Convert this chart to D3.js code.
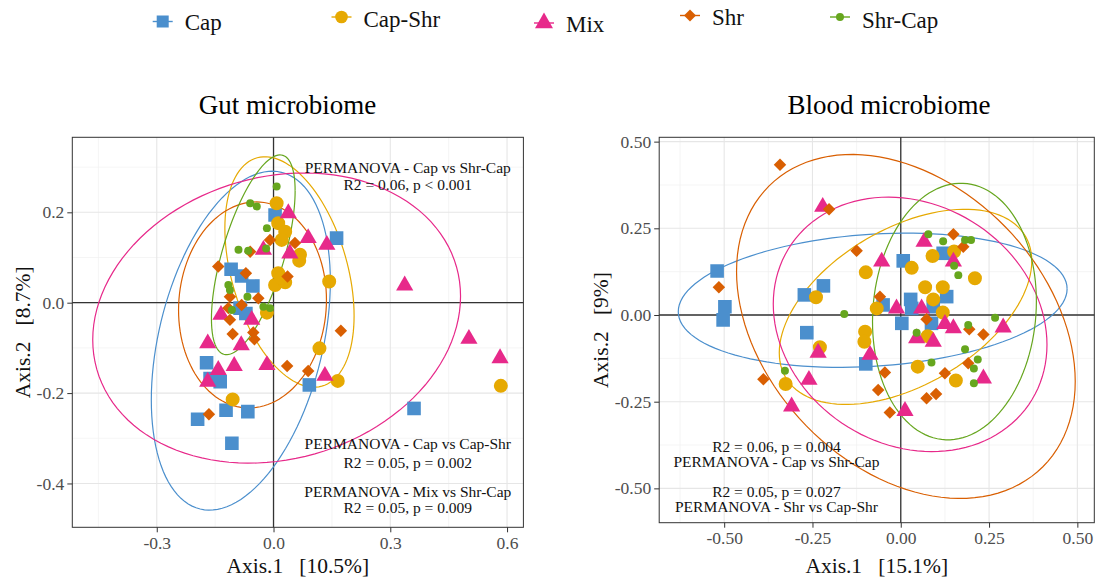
<!DOCTYPE html>
<html>
<head>
<meta charset="utf-8">
<script src="https://cdn.jsdelivr.net/npm/d3@7"></script>
<style>
  body { margin: 0; background: #fff; }
  svg text { font-family: "Liberation Serif", "Times New Roman", serif; }
</style>
</head>
<body>
<div id="chart"></div>
<script>
// groups, in legend order
var groups = ['Cap', 'Cap-Shr', 'Mix', 'Shr', 'Shr-Cap'];
var colors = ['#4b8fcd', '#e6a902', '#e7298a', '#d95f02', '#66a61e'];

// gut microbiome ordination, [Axis.1, Axis.2]
var gutCap = [[0.004,0.194],[0.162,0.143],[-0.109,0.074],[-0.082,0.059],[-0.053,0.037],[-0.086,-0.012],
  [-0.071,-0.024],[-0.172,-0.133],[-0.163,-0.168],[-0.137,-0.175],[0.092,-0.182],[-0.122,-0.238],
  [-0.066,-0.241],[-0.195,-0.258],[-0.107,-0.311],[0.361,-0.234]];
var gutCapShr = [[0.008,0.220],[0.012,0.176],[0.030,0.157],[0.021,0.139],[0.068,0.106],[0.066,0.093],
  [0.012,0.065],[0.004,0.039],[0.030,0.045],[0.020,0.055],[0.143,0.047],[-0.017,-0.022],[0.118,-0.101],
  [0.165,-0.173],[-0.105,-0.214],[0.584,-0.184]];
var gutMix = [[0.038,0.198],[0.089,0.143],[0.137,0.128],[-0.026,0.117],[0.042,0.109],[-0.135,-0.027],
  [-0.056,-0.038],[-0.169,-0.090],[-0.083,-0.094],[-0.142,-0.149],[-0.101,-0.140],[-0.017,-0.138],
  [-0.169,-0.175],[0.132,-0.162],[0.337,0.038],[0.502,-0.080],[0.582,-0.123]];
var gutShr = [[-0.009,0.139],[0.055,0.132],[-0.060,0.113],[-0.142,0.080],[-0.071,0.065],[0.036,0.058],
  [-0.112,0.013],[-0.039,0.010],[-0.082,-0.005],[-0.116,-0.012],[-0.112,-0.038],[-0.105,-0.069],
  [-0.052,-0.066],[-0.049,-0.081],[0.173,-0.062],[0.035,-0.140],[0.089,-0.151],[-0.166,-0.247]];
var gutShrCap = [[0.008,0.257],[-0.060,0.220],[-0.043,0.213],[-0.017,0.165],[-0.090,0.117],[-0.065,0.115],
  [-0.019,0.120],[-0.116,0.039],[-0.112,0.028],[-0.067,0.013],[-0.107,-0.016],[-0.009,-0.012],[-0.026,-0.009]];
// ellipses: [cx, cy, half width, half height, tilt r]
var gutEllipses = [[-0.084,-0.084,0.230,0.375,0.35],[0.041,0.068,0.166,0.255,-0.38],
  [0.008,-0.034,0.4725,0.321,0.15],[-0.054,-0.005,0.19,0.228,0.05],[-0.052,0.106,0.1075,0.221,0.64]];

// blood microbiome ordination
var bloodCap = [[-0.520,0.127],[-0.498,0.024],[-0.503,-0.014],[-0.219,0.084],[-0.273,0.058],[-0.266,-0.051],
  [-0.099,-0.141],[-0.050,0.029],[0.007,0.156],[0.028,0.045],[0.031,0.019],[0.003,-0.024],[0.092,0.024],
  [0.087,-0.024],[0.130,0.053],[0.120,0.178]];
var bloodCapShr = [[-0.099,0.123],[-0.240,0.051],[-0.068,0.019],[0.031,0.136],[0.090,0.170],[0.151,0.183],
  [0.210,0.106],[0.069,0.080],[0.119,0.080],[0.092,0.045],[0.119,0.007],[0.076,-0.061],[-0.101,-0.048],
  [-0.103,-0.077],[-0.229,-0.093],[-0.326,-0.199],[0.048,-0.149],[0.156,-0.189]];
var bloodMix = [[-0.221,0.312],[-0.054,0.154],[0.066,0.211],[0.149,0.154],[-0.012,0.019],[0.059,0.019],
  [0.125,-0.026],[0.149,-0.038],[0.045,-0.067],[0.092,-0.077],[0.290,-0.036],[0.234,-0.183],[0.012,-0.277],
  [-0.087,-0.115],[-0.234,-0.109],[-0.260,-0.187],[-0.309,-0.264]];
var bloodShr = [[-0.342,0.433],[-0.203,0.305],[-0.125,0.185],[-0.515,0.080],[-0.059,0.053],[0.149,0.233],
  [0.177,0.197],[0.073,-0.012],[0.194,-0.041],[0.234,-0.056],[0.191,-0.139],[0.125,-0.168],[0.073,-0.240],
  [0.100,-0.228],[-0.045,-0.166],[-0.064,-0.216],[-0.031,-0.281],[-0.389,-0.185]];
var bloodShrCap = [[-0.160,0.003],[0.078,0.233],[0.120,0.213],[0.182,0.216],[0.199,0.216],[0.151,0.142],
  [0.163,0.115],[0.267,-0.008],[0.045,-0.051],[0.191,-0.029],[0.182,-0.099],[0.218,-0.128],[0.207,-0.154],
  [0.207,-0.197],[0.087,-0.137],[-0.328,-0.161]];
var bloodEllipses = [[-0.0795,0.0425,0.5505,0.1935,0.17],[0.0135,0.0235,0.3575,0.2815,0.47],
  [0.0265,-0.027,0.3875,0.367,-0.16],[0.0145,-0.033,0.4795,0.496,-0.32],[0.152,0.01,0.232,0.37,0.08]];

var gutXTicks = [-0.3, 0, 0.3, 0.6];
var gutYTicks = [-0.4, -0.2, 0, 0.2];
var bloodTicks = [-0.5, -0.25, 0, 0.25, 0.5];

var gutNotes = [['PERMANOVA - Cap vs Shr-Cap', 'R2 = 0.06, p < 0.001'],
  ['PERMANOVA - Cap vs Cap-Shr', 'R2 = 0.05, p = 0.002'],
  ['PERMANOVA - Mix vs Shr-Cap', 'R2 = 0.05, p = 0.009']];
var bloodNotes = [['R2 = 0.06, p = 0.004', 'PERMANOVA - Cap vs Shr-Cap'],
  ['R2 = 0.05, p = 0.027', 'PERMANOVA - Shr vs Cap-Shr']];

var svg = d3.select('#chart').append('svg')
  .attr('width', 1097)
  .attr('height', 581);

// symbol per group, size is area
function shapeFor(i, legend) {
  var s = legend
    ? [[d3.symbolSquare,144],[d3.symbolCircle,125],[d3.symbolTriangle,140],[d3.symbolSquare,72],[d3.symbolCircle,50]]
    : [[d3.symbolSquare,185],[d3.symbolCircle,154],[d3.symbolTriangle,128],[d3.symbolSquare,78],[d3.symbolCircle,50]];
  return d3.symbol().type(s[i][0]).size(s[i][1])();
}

function ellipsePoints(e) {
  var pts = [];
  var k = Math.sqrt(1 - e[4] * e[4]);
  for (var i = 0; i <= 120; i++) {
    var t = i / 120 * 2 * Math.PI;
    pts.push([e[0] + e[2] * Math.cos(t), e[1] + e[3] * (e[4] * Math.cos(t) + k * Math.sin(t))]);
  }
  return pts;
}

function drawPanel(o) {
  var x = d3.scaleLinear().domain(o.xDomain).range([o.left, o.right]);
  var y = d3.scaleLinear().domain(o.yDomain).range([o.bottom, o.top]);
  var g = svg.append('g');

  g.append('rect')
    .attr('x', o.left).attr('y', o.top)
    .attr('width', o.right - o.left).attr('height', o.bottom - o.top)
    .attr('fill', '#fff');

  // grid
  o.xMinor.forEach(function(v) {
    g.append('line').attr('x1', x(v)).attr('x2', x(v)).attr('y1', o.top).attr('y2', o.bottom)
      .attr('stroke', '#f0f0f0').attr('stroke-width', 0.7);
  });
  o.yMinor.forEach(function(v) {
    g.append('line').attr('y1', y(v)).attr('y2', y(v)).attr('x1', o.left).attr('x2', o.right)
      .attr('stroke', '#f0f0f0').attr('stroke-width', 0.7);
  });
  o.xTicks.forEach(function(v) {
    g.append('line').attr('x1', x(v)).attr('x2', x(v)).attr('y1', o.top).attr('y2', o.bottom)
      .attr('stroke', '#e6e6e6').attr('stroke-width', 1.1);
  });
  o.yTicks.forEach(function(v) {
    g.append('line').attr('y1', y(v)).attr('y2', y(v)).attr('x1', o.left).attr('x2', o.right)
      .attr('stroke', '#e6e6e6').attr('stroke-width', 1.1);
  });

  // zero lines
  g.append('line').attr('x1', x(0)).attr('x2', x(0)).attr('y1', o.top).attr('y2', o.bottom)
    .attr('stroke', '#333').attr('stroke-width', 1.3);
  g.append('line').attr('y1', y(0)).attr('y2', y(0)).attr('x1', o.left).attr('x2', o.right)
    .attr('stroke', '#333').attr('stroke-width', 1.3);

  var clipId = 'clip-' + o.name;
  svg.append('clipPath').attr('id', clipId).append('rect')
    .attr('x', o.left).attr('y', o.top)
    .attr('width', o.right - o.left).attr('height', o.bottom - o.top);

  var line = d3.line().x(function(d) { return x(d[0]); }).y(function(d) { return y(d[1]); });
  var plot = g.append('g').attr('clip-path', 'url(#' + clipId + ')');

  o.ellipses.forEach(function(e, i) {
    plot.append('path')
      .attr('d', line(ellipsePoints(e)))
      .attr('fill', 'none')
      .attr('stroke', colors[i])
      .attr('stroke-width', 1.2);
  });

  o.series.forEach(function(pts, i) {
    plot.append('g').selectAll('path')
      .data(pts)
      .enter().append('path')
      .attr('d', shapeFor(i, false))
      .attr('transform', function(d) {
        return 'translate(' + x(d[0]) + ',' + y(d[1]) + ')' + (i === 3 ? ' rotate(45)' : '');
      })
      .attr('fill', colors[i]);
  });

  // border
  g.append('rect')
    .attr('x', o.left).attr('y', o.top)
    .attr('width', o.right - o.left).attr('height', o.bottom - o.top)
    .attr('fill', 'none').attr('stroke', '#333').attr('stroke-width', 1);

  var xAxis = g.append('g')
    .attr('transform', 'translate(0,' + o.bottom + ')')
    .call(d3.axisBottom(x).tickValues(o.xTicks).tickFormat(d3.format(o.fmt)).tickSize(5).tickPadding(4));
  var yAxis = g.append('g')
    .attr('transform', 'translate(' + o.left + ',0)')
    .call(d3.axisLeft(y).tickValues(o.yTicks).tickFormat(d3.format(o.fmt)).tickSize(5).tickPadding(3));
  [xAxis, yAxis].forEach(function(a) {
    a.select('.domain').remove();
    a.selectAll('line').attr('stroke', '#333');
    a.selectAll('text')
      .attr('fill', '#4d4d4d')
      .style('font-size', '17.5px')
      .style('font-family', '"Liberation Serif", serif')
      .text(function(d) { return d3.format(o.fmt)(d).replace('−', '-'); });
  });

  // notes
  o.notes.forEach(function(pair, j) {
    pair.forEach(function(t, k) {
      g.append('text')
        .attr('x', x(o.noteX))
        .attr('y', o.noteY[j] + k * o.noteGap[j])
        .attr('text-anchor', 'middle')
        .attr('fill', '#111')
        .style('font-size', '15.5px')
        .text(t);
    });
  });

  g.append('text')
    .attr('x', o.titleX).attr('y', 114)
    .attr('text-anchor', 'middle')
    .style('font-size', '27px')
    .attr('fill', '#000')
    .text(o.title);

  g.append('text')
    .attr('x', (o.left + o.right) / 2).attr('y', 573)
    .attr('text-anchor', 'middle')
    .style('font-size', '21.5px')
    .style('white-space', 'pre')
    .attr('fill', '#111')
    .text(o.xLabel);

  g.append('text')
    .attr('transform', 'translate(' + o.yLabelX + ',' + ((o.top + o.bottom) / 2) + ') rotate(-90)')
    .attr('text-anchor', 'middle')
    .style('font-size', '21.5px')
    .style('white-space', 'pre')
    .attr('fill', '#111')
    .text(o.yLabel);
}

drawPanel({
  name: 'gut',
  left: 72.3, right: 523.4, top: 137.3, bottom: 527.3,
  xDomain: [-0.517, 0.642], yDomain: [-0.497, 0.366],
  xTicks: gutXTicks, yTicks: gutYTicks,
  xMinor: [-0.45, -0.15, 0.15, 0.45], yMinor: [-0.3, -0.1, 0.1, 0.3],
  fmt: '.1f',
  ellipses: gutEllipses,
  series: [gutCap, gutCapShr, gutMix, gutShr, gutShrCap],
  notes: gutNotes, noteX: 0.345, noteY: [173, 449, 497], noteGap: [16.5, 18.5, 15.5],
  title: 'Gut microbiome', titleX: 287.5,
  xLabel: 'Axis.1   [10.5%]', yLabel: 'Axis.2   [8.7%]', yLabelX: 30
});

drawPanel({
  name: 'blood',
  left: 659.2, right: 1094.3, top: 137.3, bottom: 522.7,
  xDomain: [-0.684, 0.548], yDomain: [-0.599, 0.5125],
  xTicks: bloodTicks, yTicks: bloodTicks,
  xMinor: [-0.625, -0.375, -0.125, 0.125, 0.375], yMinor: [-0.375, -0.125, 0.125, 0.375],
  fmt: '.2f',
  ellipses: bloodEllipses,
  series: [bloodCap, bloodCapShr, bloodMix, bloodShr, bloodShrCap],
  notes: bloodNotes, noteX: -0.352, noteY: [452, 497], noteGap: [15, 15],
  title: 'Blood microbiome', titleX: 889,
  xLabel: 'Axis.1   [15.1%]', yLabel: 'Axis.2   [9%]', yLabelX: 607.5
});

// legend (hand placed, as in the figure)
var legendX = [162.7, 341.5, 544, 690, 840];
var legendY = [21.5, 17, 23, 15.5, 17];
var legendTextY = [29.5, 27, 31.5, 25, 28];
var legend = svg.append('g');
groups.forEach(function(name, i) {
  var item = legend.append('g');
  item.append('line')
    .attr('x1', legendX[i] - 10).attr('x2', legendX[i] + 10)
    .attr('y1', legendY[i]).attr('y2', legendY[i])
    .attr('stroke', colors[i]).attr('stroke-width', 1.4);
  item.append('path')
    .attr('d', shapeFor(i, true))
    .attr('transform', 'translate(' + legendX[i] + ',' + legendY[i] + ')' + (i === 3 ? ' rotate(45)' : ''))
    .attr('fill', colors[i]);
  item.append('text')
    .attr('x', legendX[i] + 22).attr('y', legendTextY[i])
    .style('font-size', '23px')
    .attr('fill', '#111')
    .text(name);
});
</script>
</body>
</html>
